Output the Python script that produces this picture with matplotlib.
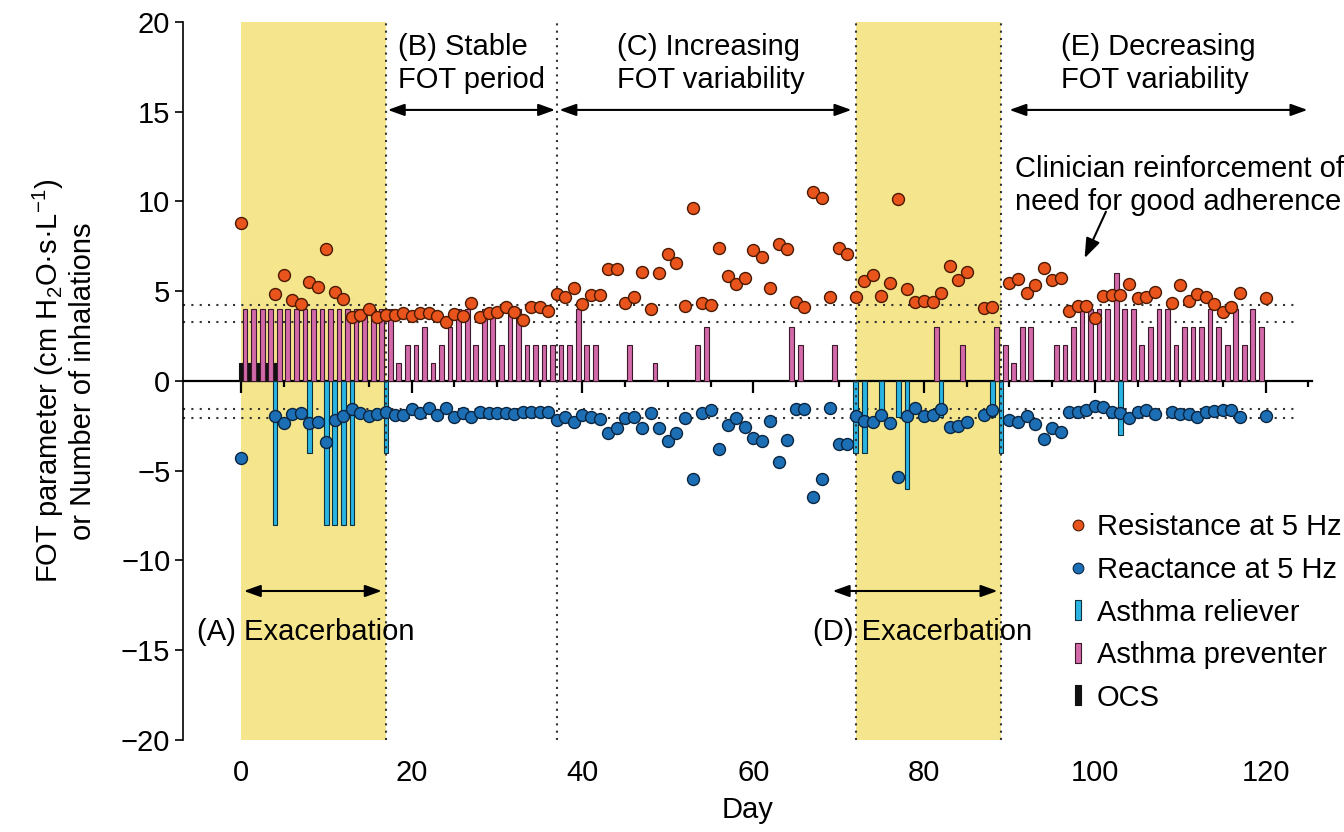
import matplotlib
matplotlib.use("Agg")
import matplotlib.pyplot as plt
import numpy as np
from matplotlib.lines import Line2D

plt.rcParams['font.family'] = ['Liberation Sans', 'DejaVu Sans']
plt.rcParams['mathtext.fontset'] = 'custom'
plt.rcParams['mathtext.rm'] = 'Liberation Sans'
plt.rcParams['mathtext.it'] = 'Liberation Sans:italic'

# FOT measurements (days with a reading)
fot_days = [0] + list(range(4, 86)) + [87, 88] + list(range(90, 108)) + list(range(109, 118)) + [120]
resistance = [8.78,
              4.85, 5.89, 4.50, 4.29, 5.53, 5.25, 7.34, 4.98, 4.59, 3.58, 3.68, 4.01, 3.58, 3.68,
              3.68, 3.77, 3.64, 3.77, 3.81, 3.64, 3.31, 3.73, 3.64, 4.33, 3.58, 3.77, 3.86, 4.14,
              3.83, 3.40, 4.14, 4.14, 3.88, 4.85, 4.68, 5.16, 4.28, 4.80, 4.80, 6.24, 6.24, 4.33,
              4.70, 6.07, 3.99, 6.03, 7.06, 6.59, 4.20, 9.62, 4.36, 4.23, 7.39, 5.85, 5.40, 5.76,
              7.30, 6.93, 5.16, 7.61, 7.35, 4.42, 4.10, 10.55, 10.18, 4.70, 7.39, 7.07, 4.70, 5.57,
              5.90, 4.73, 5.44, 10.14, 5.13, 4.42, 4.47, 4.42, 4.88, 6.43, 5.63, 6.09,
              4.05, 4.14,
              5.47, 5.66, 4.92, 5.35, 6.31, 5.63, 5.76, 3.90, 4.18, 4.18, 3.49, 4.74, 4.79, 4.79,
              5.40, 4.60, 4.70, 4.98,
              4.33, 5.35, 4.48, 4.85, 4.70, 4.29, 3.86, 4.10, 4.88,
              4.60]
reactance = [-4.31,
             -1.93, -2.36, -1.84, -1.76, -2.32, -2.30, -3.42, -2.17, -1.93, -1.56, -1.80, -1.93, -1.86, -1.71,
             -1.89, -1.89, -1.58, -1.76, -1.52, -1.89, -1.52, -1.99, -1.80, -1.99, -1.71, -1.80, -1.80, -1.76,
             -1.83, -1.71, -1.74, -1.74, -1.72, -2.15, -1.99, -2.27, -1.89, -2.02, -2.12, -2.92, -2.60, -2.04,
             -2.00, -2.60, -1.80, -2.60, -3.34, -2.92, -2.05, -5.48, -1.80, -1.62, -3.81, -2.45, -2.04, -2.54,
             -3.19, -3.32, -2.23, -4.49, -3.28, -1.58, -1.58, -6.44, -5.48, -1.49, -3.53, -3.53, -1.93, -2.21,
             -2.27, -1.89, -2.36, -5.33, -1.93, -1.49, -1.93, -1.89, -1.56, -2.54, -2.49, -2.27,
             -1.89, -1.62,
             -2.17, -2.30, -1.95, -2.41, -3.23, -2.60, -2.82, -1.71, -1.74, -1.62, -1.38, -1.47, -1.74, -1.78,
             -2.08, -1.71, -1.60, -1.84,
             -1.71, -1.82, -1.82, -1.99, -1.71, -1.67, -1.60, -1.62, -1.99,
             -1.95]

# inhalations per day
preventer_days = list(range(0, 42)) + [45, 48, 53, 54, 64, 65, 69, 81, 84, 88, 89, 90, 91, 92] + list(range(95, 120))
preventer = [4] * 18 + [1, 2, 2, 3, 1, 2, 3, 4, 4, 2, 4, 4, 2, 4, 4, 2, 2, 2, 2, 2, 2, 4, 2, 2] + \
            [2, 1, 2, 3, 3, 2, 2, 3, 2, 3, 2, 1, 3, 3] + \
            [2, 2, 3, 4, 4, 4, 4, 6, 4, 4, 2, 3, 4, 4, 2, 3, 3, 3, 4, 3, 2, 4, 2, 4, 3]
reliever_days = [4, 8, 10, 11, 12, 13, 17, 72, 73, 75, 77, 78, 82, 88, 89, 103]
reliever = [8, 4, 8, 8, 8, 8, 4, 4, 4, 2, 2, 6, 2, 2, 4, 3]
ocs_days = [0, 1, 2, 3, 4]
ocs = [1, 1, 1, 1, 1]

exacerbations = [(0, 17), (72, 89)]
phase_bounds = [17, 37, 72, 89]
ref_levels = [4.23, 3.31, -1.56, -2.04]

c_res = '#E8541C'
c_rea = '#1D6FB5'
c_rel = '#2AB4E4'
c_pre = '#D269A8'
c_yel = '#F5E68E'

fig = plt.figure(figsize=(13.44, 8.32), dpi=100)
ax = fig.add_axes([0.136, 0.1106, 0.840, 0.8630])
ax.set_xlim(-6.8, 125.4)
ax.set_ylim(-20, 20)

for a, b in exacerbations:
    ax.axvspan(a, b, color=c_yel, lw=0, zorder=0)
for d in phase_bounds:
    ax.axvline(d, color='#333333', lw=1.5, ls=(0, (1, 2.5)), zorder=3)
ax.hlines(ref_levels, -6.8, 123.6, color='#333333', lw=1.5, ls=(0, (1, 3)), zorder=1)

w = 0.55
ax.bar(ocs_days, ocs, width=w, color='#111111', edgecolor='#111111', lw=0.8, zorder=2)
ax.bar(np.array(preventer_days) + 0.5, preventer, width=w, color=c_pre, edgecolor='#3a1a2a', lw=0.8, zorder=2)
ax.bar(reliever_days, -np.array(reliever), width=w, color=c_rel, edgecolor='#10303a', lw=0.8, zorder=2)

ax.scatter(fot_days, resistance, s=74, color=c_res, edgecolor='#4a1a00', lw=1.0, zorder=4)
ax.scatter(fot_days, reactance, s=74, color=c_rea, edgecolor='#0a2540', lw=1.0, zorder=4)

# axes styling
for s in ['top', 'right', 'bottom']:
    ax.spines[s].set_visible(False)
ax.spines['left'].set_linewidth(1.2)
ax.set_yticks(np.arange(-20, 21, 5))
ax.tick_params(axis='y', direction='out', length=6, width=1.2, labelsize=21, pad=3)
ax.set_xticks(np.arange(0, 121, 20))
ax.tick_params(axis='x', length=0, labelsize=21, pad=14)

# zero line carries the day ticks
zero = ax.secondary_xaxis(0.5)
zero.set_alignment('bottom')
zero.spines['bottom'].set_linewidth(1.6)
zero.set_xticks(np.arange(0, 121, 20))
zero.set_xticks(np.arange(5, 126, 5), minor=True)
zero.tick_params(axis='x', which='both', direction='out', width=1.6,
                 bottom=True, top=False, labelbottom=False, labeltop=False)
zero.tick_params(axis='x', which='major', length=8.5)
zero.tick_params(axis='x', which='minor', length=4)

ax.set_xlabel('Day', fontsize=21)
ax.xaxis.set_label_coords(0.5, -0.078)
ax.set_ylabel('FOT parameter (cm H$_2$O·s·L$^{-1}$)\nor Number of inhalations', fontsize=21, linespacing=1.15)
ax.yaxis.set_label_coords(-0.076, 0.5)

# phase annotations
arrow = dict(arrowstyle='<|-|>,head_length=0.5,head_width=0.18', color='k', lw=1.5,
             mutation_scale=20, shrinkA=0, shrinkB=0)
ax.annotate('', xy=(16.5, -11.7), xytext=(0.35, -11.7), arrowprops=arrow)
ax.annotate('', xy=(88.6, -11.7), xytext=(69.3, -11.7), arrowprops=arrow)
ax.annotate('', xy=(36.8, 15.1), xytext=(17.2, 15.1), arrowprops=arrow)
ax.annotate('', xy=(71.5, 15.1), xytext=(37.3, 15.1), arrowprops=arrow)
ax.annotate('', xy=(124.9, 15.1), xytext=(90.0, 15.1), arrowprops=arrow)

ax.text(-5.1, -13.97, '(A) Exacerbation', fontsize=21, ha='left', va='center')
ax.text(67.0, -13.97, '(D) Exacerbation', fontsize=21, ha='left', va='center')
ax.text(18.4, 17.7, '(B) Stable\nFOT period', fontsize=21, ha='left', va='center', linespacing=1.25)
ax.text(44.1, 17.7, '(C) Increasing\nFOT variability', fontsize=21, ha='left', va='center', linespacing=1.25)
ax.text(96.0, 17.7, '(E) Decreasing\nFOT variability', fontsize=21, ha='left', va='center', linespacing=1.25)
ax.text(90.6, 10.9, 'Clinician reinforcement of\nneed for good adherence', fontsize=21,
        ha='left', va='center', linespacing=1.2, clip_on=False)
ax.annotate('', xy=(98.8, 6.84), xytext=(101.3, 9.43),
            arrowprops=dict(arrowstyle='-|>,head_length=0.6,head_width=0.22', color='k', lw=1.5,
                            mutation_scale=20, shrinkA=0, shrinkB=0))

bar_marker = [(-0.13, -0.5), (0.13, -0.5), (0.13, 0.5), (-0.13, 0.5), (-0.13, -0.5)]
handles = [
    Line2D([], [], ls='none', marker='o', ms=7.7, mfc=c_res, mec='#4a1a00', mew=0.8),
    Line2D([], [], ls='none', marker='o', ms=7.7, mfc=c_rea, mec='#0a2540', mew=0.8),
    Line2D([], [], ls='none', marker=bar_marker, ms=14, mfc=c_rel, mec='#10303a', mew=0.8),
    Line2D([], [], ls='none', marker=bar_marker, ms=14, mfc=c_pre, mec='#3a1a2a', mew=0.8),
    Line2D([], [], ls='none', marker=bar_marker, ms=14, mfc='#111111', mec='#111111', mew=0.8),
]
labels = ['Resistance at 5 Hz', 'Reactance at 5 Hz', 'Asthma reliever', 'Asthma preventer', 'OCS']
fig.legend(handles, labels, loc='upper left', bbox_to_anchor=(0.7946, 0.383), frameon=False,
           fontsize=21, handlelength=0.7, handletextpad=0.3, labelspacing=0.5,
           borderpad=0, borderaxespad=0)

fig.savefig('out.png', dpi=100)
